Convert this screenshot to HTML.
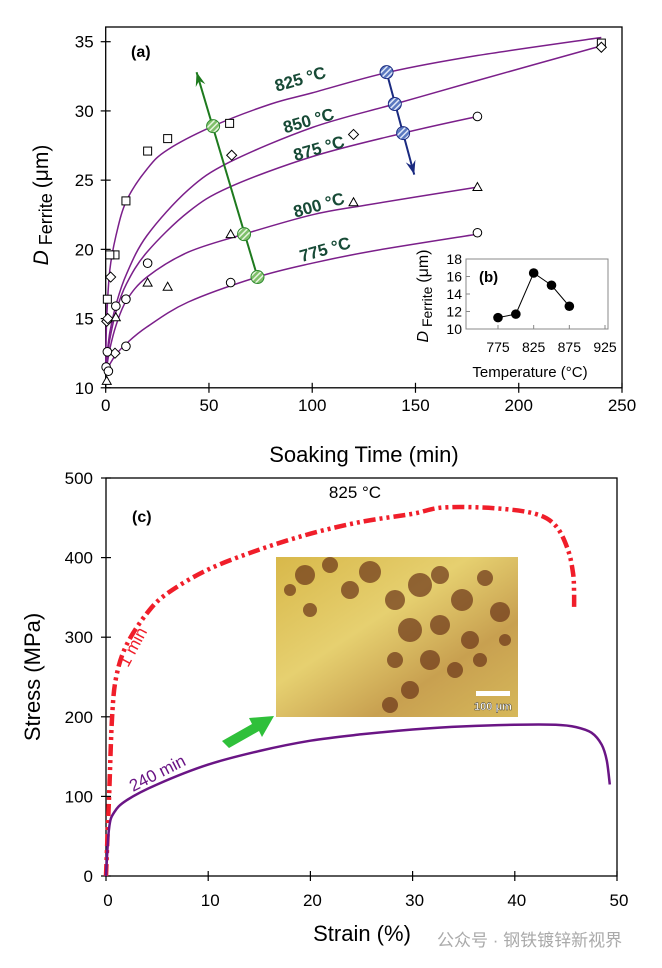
<!DOCTYPE html>
<html><head><meta charset="utf-8">
<style>
html,body{margin:0;padding:0;background:#fff;}
svg{display:block;font-family:"Liberation Sans",Arial,sans-serif;}
</style></head>
<body>
<svg id="fig" width="662" height="968" viewBox="0 0 662 968" xmlns="http://www.w3.org/2000/svg">
<defs>
<pattern id="hatchG" width="4" height="4" patternUnits="userSpaceOnUse" patternTransform="rotate(45)">
<rect width="4" height="4" fill="#7fbf6a"/><rect width="1.5" height="4" fill="#e8f5e0"/></pattern>
<pattern id="hatchB" width="4" height="4" patternUnits="userSpaceOnUse" patternTransform="rotate(45)">
<rect width="4" height="4" fill="#5a78c0"/><rect width="1.5" height="4" fill="#e0e8f8"/></pattern>
<linearGradient id="photoG" x1="0" y1="0" x2="1" y2="1">
<stop offset="0" stop-color="#d8b84a"/><stop offset="0.4" stop-color="#e6d070"/><stop offset="0.7" stop-color="#c8a050"/><stop offset="1" stop-color="#d6b85a"/></linearGradient>
</defs>
<g id="top"></g>
<g id="inset"></g>
<g id="bottom"></g>
<text x="437" y="946" font-size="17" fill="#aaa" font-family="'Liberation Sans','Noto Sans CJK SC',sans-serif">公众号 · 钢铁镀锌新视界</text>
</svg>
<script>
// ---------- Chart (a) data ----------
const xTicksA = [0,50,100,150,200,250];
const yTicksA = [10,15,20,25,30,35];
const curve825 = [[0,11.5],[0.5,15],[2,18.5],[5,21],[10,23.5],[20,25.8],[30,27.2],[52,28.9],[80,30.5],[100,31.3],[137,32.8],[180,34],[240,35.3]];
const curve850 = [[0,11.5],[2,14],[5,16],[10,18.2],[20,21],[40,24.3],[60,26.3],[100,28.8],[140,30.5],[180,32.2],[240,34.7]];
const curve875 = [[0,11.5],[2,13.5],[5,15.5],[10,17.5],[20,19.8],[40,22.7],[60,24.5],[100,26.7],[144,28.4],[180,29.6]];
const curve800 = [[0,11],[2,12.8],[5,14.5],[10,16.3],[20,18],[40,19.8],[67,21.1],[100,22.5],[126,23.2],[180,24.5]];
const curve775 = [[0,11],[2,11.7],[5,12.4],[10,13.2],[20,14.4],[40,16.2],[73.5,18],[100,19],[130,19.9],[180,21.1]];
const squarePts = [[240,34.9],[60,29.1],[30,28.0],[20.3,27.1],[9.8,23.5],[4.5,19.6],[2,19.6],[0.8,16.4]];
const diamondPts = [[240,34.6],[120,28.3],[61,26.8],[2.4,18.0],[0.5,14.8],[4.5,12.5],[1,15]];
const circlePts = [[180,29.6],[180,21.2],[60.5,17.6],[20.3,19.0],[9.8,16.4],[4.9,15.9],[9.8,13.0],[0.8,12.6],[0.2,11.5],[1.3,11.2]];
const trianglePts = [[180,24.5],[120,23.4],[60.5,21.1],[30,17.3],[20.3,17.6],[4.9,15.1],[0.5,10.5]];
const greenPts = [[73.5,18],[67,21.1],[52,28.9]];
const greenTip = [44,32.8];
const bluePts = [[136,32.8],[140,30.5],[144,28.4]];
const blueTip = [149.4,25.4];
const curveLabels = ["825 °C","850 °C","875 °C","800 °C","775 °C"];
const curveLabelPos = [[95,31.9],[99,28.9],[104,26.9],[104,22.8],[107,19.6]];
// ---------- Chart (b) data ----------
const tempsB = [775,800,825,850,875];
const dB = [11.3,11.7,16.4,15.0,12.6];
const xTicksB = [775,825,875,925];
const yTicksB = [10,12,14,16,18];
// ---------- Chart (c) data ----------
const xTicksC = [0,10,20,30,40,50];
const yTicksC = [0,100,200,300,400,500];
const strain1 = [0,0.3,0.6,1,2,4,6,10,15,20,25,30,33,38,42,44,45.2,45.7,45.8,45.8];
const stress1 = [0,100,200,250,290,330,355,385,410,430,445,455,463,462,455,440,410,380,355,337];
const strain240 = [0,0.3,0.8,2,5,10,15,20,25,30,35,40,44,46,47.5,48.5,49,49.3];
const stress240 = [0,60,80,95,115,140,157,170,178,184,188,190,190,187,180,165,145,115];

const NS="http://www.w3.org/2000/svg";
function mk(parent,tag,attrs,text){const e=document.createElementNS(NS,tag);for(const k in attrs)e.setAttribute(k,attrs[k]);if(text!==undefined)e.textContent=text;parent.appendChild(e);return e;}

// ---------- Draw (a) ----------
const gA=document.getElementById('top');
const ax={x0:105.7,x1:622,y0:387.8,y1:41.7};
const sxA=t=>ax.x0+(t/250)*(ax.x1-ax.x0);
const syA=d=>ax.y0-((d-10)/25)*(ax.y0-ax.y1);
let boxA=mk(gA,'rect',{x:105.7,y:27,width:516.3,height:360.8,fill:'none',stroke:'#000','stroke-width':1.3});


xTicksA.forEach(v=>{
 let l=mk(gA,'line',{x1:sxA(v),x2:sxA(v),y1:ax.y0-5,y2:ax.y0+5,stroke:'#000','stroke-width':1.2});
 
 
 let t=mk(gA,'text',{x:sxA(v),y:ax.y0+23,'font-size':17,'text-anchor':'middle'},String(v));
 
 
});
yTicksA.forEach(v=>{
 let l=mk(gA,'line',{x1:ax.x0-5,x2:ax.x0+5,y1:syA(v),y2:syA(v),stroke:'#000','stroke-width':1.2});
 
 
 let t=mk(gA,'text',{x:ax.x0-12,y:syA(v)+6,'font-size':17,'text-anchor':'end'},String(v));
 
 
});
let ytA=mk(gA,'text',{transform:'translate(48,205) rotate(-90)','font-size':21,'text-anchor':'middle'});


mk(ytA,'tspan',{'font-style':'italic'},'D');
mk(ytA,'tspan',{'font-size':18,dy:4},' Ferrite ');
mk(ytA,'tspan',{dy:-4},'(μm)');
let xtA=mk(gA,'text',{x:364,y:462,'font-size':22,'text-anchor':'middle'},'Soaking Time (min)');


let pa=mk(gA,'text',{x:131,y:57,'font-size':16,'font-weight':'bold'},'(a)');


function smooth(pts){let d='M'+pts[0][0].toFixed(1)+','+pts[0][1].toFixed(1);
 for(let i=0;i<pts.length-1;i++){const p0=pts[i-1]||pts[i],p1=pts[i],p2=pts[i+1],p3=pts[i+2]||p2;
  const c1=[p1[0]+(p2[0]-p0[0])/6,p1[1]+(p2[1]-p0[1])/6],c2=[p2[0]-(p3[0]-p1[0])/6,p2[1]-(p3[1]-p1[1])/6];
  d+=' C'+c1[0].toFixed(1)+','+c1[1].toFixed(1)+' '+c2[0].toFixed(1)+','+c2[1].toFixed(1)+' '+p2[0].toFixed(1)+','+p2[1].toFixed(1);}
 return d;}
[curve825,curve850,curve875,curve800,curve775].forEach((c,i)=>{
 let p=mk(gA,'path',{d:smooth(c.map(q=>[sxA(q[0]),syA(q[1])])),fill:'none',stroke:'#7b1f8a','stroke-width':1.5});
 
 
});
squarePts.forEach(q=>{let e=mk(gA,'rect',{x:sxA(q[0])-4,y:syA(q[1])-4,width:8,height:8,fill:'#fff',stroke:'#000','stroke-width':1});
 
 });
diamondPts.forEach(q=>{const x=sxA(q[0]),y=syA(q[1]);let e=mk(gA,'path',{d:`M${x},${y-5} L${x+5},${y} L${x},${y+5} L${x-5},${y} Z`,fill:'#fff',stroke:'#000','stroke-width':1});
 
 });
circlePts.forEach(q=>{let e=mk(gA,'circle',{cx:sxA(q[0]),cy:syA(q[1]),r:4.3,fill:'#fff',stroke:'#000','stroke-width':1});
 
 });
trianglePts.forEach(q=>{const x=sxA(q[0]),y=syA(q[1]);let e=mk(gA,'path',{d:`M${x},${y-4.5} L${x+4.5},${y+3.5} L${x-4.5},${y+3.5} Z`,fill:'#fff',stroke:'#000','stroke-width':1});
 
 });
function arrowHead(x1,y1,x2,y2,col,name){const a=Math.atan2(y2-y1,x2-x1);const L=14,w=5;
 let h=mk(gA,'path',{d:`M${x2},${y2} L${x2-L*Math.cos(a)+w*Math.sin(a)},${y2-L*Math.sin(a)-w*Math.cos(a)} L${x2-9*Math.cos(a)},${y2-9*Math.sin(a)} L${x2-L*Math.cos(a)-w*Math.sin(a)},${y2-L*Math.sin(a)+w*Math.cos(a)} Z`,fill:col});
 
 }
let ga=mk(gA,'line',{x1:sxA(greenPts[0][0]),y1:syA(greenPts[0][1]),x2:sxA(greenTip[0]),y2:syA(greenTip[1]),stroke:'#1e7a1e','stroke-width':2});


arrowHead(sxA(greenPts[0][0]),syA(greenPts[0][1]),sxA(greenTip[0]),syA(greenTip[1]),'#1e7a1e','green-arrow-head');
let ba=mk(gA,'line',{x1:sxA(bluePts[0][0]),y1:syA(bluePts[0][1]),x2:sxA(blueTip[0]),y2:syA(blueTip[1]),stroke:'#1a2a80','stroke-width':2});


arrowHead(sxA(bluePts[0][0]),syA(bluePts[0][1]),sxA(blueTip[0]),syA(blueTip[1]),'#1a2a80','blue-arrow-head');
greenPts.forEach(q=>{let e=mk(gA,'circle',{cx:sxA(q[0]),cy:syA(q[1]),r:6.5,fill:'url(#hatchG)',stroke:'#2e8a2e','stroke-width':1});
 
 });
bluePts.forEach(q=>{let e=mk(gA,'circle',{cx:sxA(q[0]),cy:syA(q[1]),r:6.5,fill:'url(#hatchB)',stroke:'#1a2a80','stroke-width':1});
 
 });
curveLabels.forEach((s,i)=>{const p=curveLabelPos[i];
 let t=mk(gA,'text',{x:sxA(p[0]),y:syA(p[1]),'font-size':17,'font-weight':'bold',fill:'#174a36','text-anchor':'middle',transform:`rotate(-16 ${sxA(p[0])} ${syA(p[1])})`},s);
 
 });

// ---------- Draw (b) ----------
const gB=document.getElementById('inset');
const sxB=t=>498+(t-775)/150*107;
const syB=d=>329-(d-10)/8*70;
let boxB=mk(gB,'rect',{x:466,y:259,width:142,height:70,fill:'#fff',stroke:'#888','stroke-width':1});


yTicksB.forEach(v=>{let t=mk(gB,'text',{x:462,y:syB(v)+5,'font-size':14,'text-anchor':'end'},String(v));
 
 
 let l=mk(gB,'line',{x1:466,x2:470,y1:syB(v),y2:syB(v),stroke:'#888'});
 
 });
xTicksB.forEach(v=>{let t=mk(gB,'text',{x:sxB(v),y:352,'font-size':14,'text-anchor':'middle'},String(v));
 
 
 let l=mk(gB,'line',{x1:sxB(v),x2:sxB(v),y1:325,y2:329,stroke:'#888'});
 
 });
let xtB=mk(gB,'text',{x:530,y:377,'font-size':15,'text-anchor':'middle'},'Temperature (°C)');


let ytB=mk(gB,'text',{transform:'translate(428,296) rotate(-90)','font-size':16,'text-anchor':'middle'});


mk(ytB,'tspan',{'font-style':'italic'},'D');
mk(ytB,'tspan',{'font-size':14,dy:4},' Ferrite ');
mk(ytB,'tspan',{dy:-4},'(μm)');
let pb=mk(gB,'text',{x:479,y:282,'font-size':15,'font-weight':'bold'},'(b)');


let lb=mk(gB,'polyline',{points:tempsB.map((t,i)=>sxB(t)+','+syB(dB[i])).join(' '),fill:'none',stroke:'#000','stroke-width':1});


tempsB.forEach((t,i)=>{let c=mk(gB,'circle',{cx:sxB(t),cy:syB(dB[i]),r:4.8,fill:'#000'});
 
 });

// ---------- Draw (c) ----------
const gC=document.getElementById('bottom');
const sxC=s=>106+s/50*511;
const syC=v=>876-v/500*398;
let boxC=mk(gC,'rect',{x:106,y:478,width:511,height:398,fill:'none',stroke:'#000','stroke-width':1.3});


xTicksC.forEach(v=>{let l=mk(gC,'line',{x1:sxC(v),x2:sxC(v),y1:871,y2:881,stroke:'#000','stroke-width':1.2});
 
 
 let t=mk(gC,'text',{x:sxC(v)+2,y:906,'font-size':17,'text-anchor':'middle'},String(v));
 
 });
yTicksC.forEach(v=>{let l=mk(gC,'line',{x1:101,x2:111,y1:syC(v),y2:syC(v),stroke:'#000','stroke-width':1.2});
 
 
 let t=mk(gC,'text',{x:93,y:syC(v)+6,'font-size':17,'text-anchor':'end'},String(v));
 
 });
let ytC=mk(gC,'text',{transform:'translate(40,677) rotate(-90)','font-size':22,'text-anchor':'middle'},'Stress (MPa)');


let xtC=mk(gC,'text',{x:362,y:941,'font-size':22,'text-anchor':'middle'},'Strain (%)');


let tt=mk(gC,'text',{x:355,y:498,'font-size':17,'text-anchor':'middle'},'825 °C');


let pc=mk(gC,'text',{x:132,y:522,'font-size':16,'font-weight':'bold'},'(c)');


let ph=mk(gC,'g',{});


mk(ph,'rect',{x:276,y:557,width:242,height:160,fill:'url(#photoG)'});
const blobs=[[305,575,10],[330,565,8],[350,590,9],[370,572,11],[395,600,10],[420,585,12],[440,575,9],[462,600,11],[485,578,8],[500,612,10],[410,630,12],[440,625,10],[470,640,9],[395,660,8],[430,660,10],[455,670,8],[410,690,9],[390,705,8],[310,610,7],[290,590,6],[480,660,7],[505,640,6]];
blobs.forEach(b=>mk(ph,'circle',{cx:b[0],cy:b[1],r:b[2],fill:'#6b3518','fill-opacity':0.7}));
mk(ph,'rect',{x:476,y:691,width:34,height:5,fill:'#fff'});
mk(ph,'text',{x:493,y:710,'font-size':11,'font-weight':'bold',fill:'#fff','text-anchor':'middle',stroke:'#333','stroke-width':0.4},'100 μm');
let gar=mk(gC,'path',{d:'M222,741 L252,724 L249,718 L274,716 L262,737 L259,731 L229,748 Z',fill:'#2fc03a'});


let c1=mk(gC,'path',{d:smooth(strain1.map((s,i)=>[sxC(s),syC(stress1[i])])),fill:'none',stroke:'#f01e2a','stroke-width':4.5,'stroke-dasharray':'12 4 3 4 3 4'});


let c2=mk(gC,'path',{d:smooth(strain240.map((s,i)=>[sxC(s),syC(stress240[i])])),fill:'none',stroke:'#6a1585','stroke-width':2.5});


let l1=mk(gC,'text',{x:128,y:668,'font-size':17,fill:'#f01e2a',transform:'rotate(-62 128 668)'},'1 min');


let l2=mk(gC,'text',{x:133,y:792,'font-size':17,fill:'#6a1585',transform:'rotate(-27 133 792)'},'240 min');


</script>
</body></html>
